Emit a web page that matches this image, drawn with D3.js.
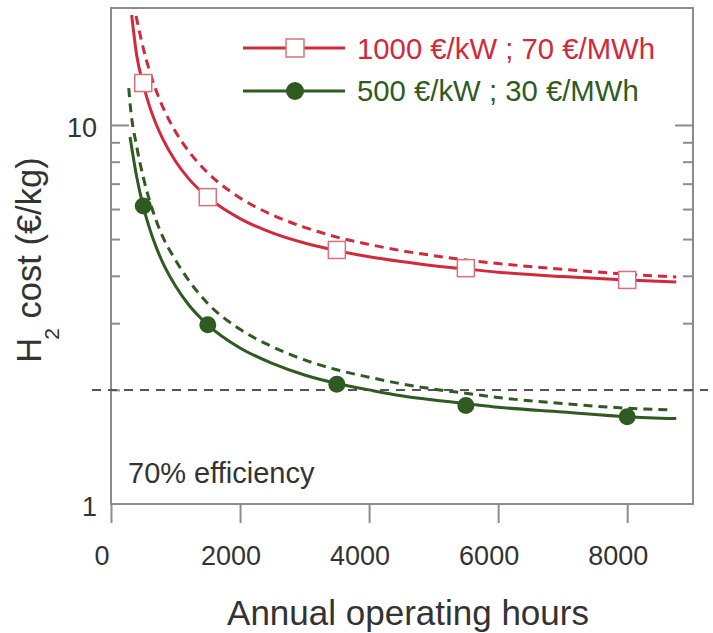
<!DOCTYPE html>
<html>
<head>
<meta charset="utf-8">
<script src="https://cdn.jsdelivr.net/npm/d3@7"></script>
<style>
  html, body { margin: 0; padding: 0; background: #fff; }
  svg { display: block; font-family: "Liberation Sans", Arial, Helvetica, sans-serif; }
</style>
</head>
<body>
<svg id="chart" width="713" height="633"></svg>
<script>
// ---------- DATA ----------
const xTickValues = [0, 2000, 4000, 6000, 8000];
const xTickLabels = ["0", "2000", "4000", "6000", "8000"];
const yMajorTicks = [1, 10];
const yMinorTicks = [2, 3, 4, 5, 6, 7, 8, 9];
const targetCost = 2;

const redSolidHours = [320, 400, 500, 600, 700, 800, 1000, 1200, 1500, 2000, 2500, 3000, 3500, 4000, 4500, 5000, 5500, 6000, 7000, 8000, 8760];
const redSolidCost  = [19.5, 15.2, 12.8, 11.16, 10.04, 9.2, 8.02, 7.23, 6.45, 5.66, 5.19, 4.88, 4.66, 4.49, 4.36, 4.25, 4.17, 4.09, 3.98, 3.9, 3.85];

const redDashHours = [388, 500, 600, 700, 800, 1000, 1200, 1500, 2000, 2500, 3000, 3500, 4000, 4500, 5000, 5500, 6000, 7000, 8000, 8760];
const redDashCost  = [19.4, 15.94, 13.83, 12.32, 11.18, 9.6, 8.54, 7.48, 6.42, 5.79, 5.37, 5.06, 4.84, 4.66, 4.52, 4.4, 4.31, 4.16, 4.04, 3.97];

const greenSolidHours = [295, 400, 500, 600, 700, 800, 1000, 1200, 1500, 2000, 2500, 3000, 3500, 4000, 4500, 5000, 5500, 6000, 7000, 8000, 8760];
const greenSolidCost  = [9.3, 7.27, 6.1, 5.32, 4.76, 4.34, 3.76, 3.36, 2.97, 2.58, 2.35, 2.19, 2.08, 2.0, 1.93, 1.88, 1.84, 1.8, 1.75, 1.7, 1.68];

const greenDashHours = [275, 300, 400, 500, 600, 700, 800, 1000, 1200, 1500, 2000, 2500, 3000, 3500, 4000, 4500, 5000, 5500, 6000, 7000, 8000, 8700];
const greenDashCost  = [12.5, 11.2, 8.74, 7.28, 6.3, 5.6, 5.08, 4.4, 3.9, 3.38, 2.89, 2.6, 2.4, 2.26, 2.16, 2.075, 2.01, 1.96, 1.91, 1.84, 1.79, 1.77];

const markerHours     = [500, 1500, 3500, 5500, 8000];
const redMarkerCost   = [12.9, 6.45, 4.68, 4.19, 3.9];
const greenMarkerCost = [6.11, 2.97, 2.07, 1.82, 1.7];

const legendLabels = ["1000 €/kW ; 70 €/MWh", "500 €/kW ; 30 €/MWh"];
const annotation = "70% efficiency";
const xTitle = "Annual operating hours";

// ---------- STYLE ----------
const RED = "#d02a3c";
const RED_MARK = "#d9707c";
const GREEN = "#2f5b22";
const FRAME = "#8c8c8c";

const svg = d3.select("#chart");
const L = 111, R = 693, T = 8, B = 504;

const x = d3.scaleLinear().domain([0, 9020]).range([L, R]);
const y = d3.scaleLog().domain([1, 20.35]).range([B, T]);

// frame
svg.append("rect").attr("x", L).attr("y", T).attr("width", R - L).attr("height", B - T)
  .attr("fill", "none").attr("stroke", FRAME).attr("stroke-width", 2);

// x axis ticks (outward) + labels
const xAxis = d3.axisBottom(x).tickValues(xTickValues).tickSize(19).tickPadding(0).tickFormat(() => "");
const gx = svg.append("g").attr("transform", `translate(0,${B})`).call(xAxis);
gx.select(".domain").remove();
gx.selectAll(".tick line").attr("stroke", FRAME).attr("stroke-width", 2);
svg.append("g").selectAll("text").data(xTickValues).join("text")
  .attr("x", d => x(d) - 9).attr("y", 565)
  .attr("text-anchor", "middle").attr("font-size", 27).attr("fill", "#333")
  .text((d, i) => xTickLabels[i]);

// y ticks (inward, both sides)
function yTicks(side) {
  const major = side === "left"
    ? d3.axisRight(y).tickValues([10]).tickSize(18).tickFormat(() => "")
    : d3.axisLeft(y).tickValues([10]).tickSize(18).tickFormat(() => "");
  const minor = side === "left"
    ? d3.axisRight(y).tickValues(yMinorTicks).tickSize(9).tickFormat(() => "")
    : d3.axisLeft(y).tickValues(yMinorTicks).tickSize(10).tickFormat(() => "");
  const xpos = side === "left" ? L : R;
  [major, minor].forEach(ax => {
    const g = svg.append("g").attr("transform", `translate(${xpos},0)`).call(ax);
    g.select(".domain").remove();
    g.selectAll(".tick line").attr("stroke", FRAME).attr("stroke-width", 2);
  });
}
yTicks("left");
yTicks("right");

svg.append("g").selectAll("text").data(yMajorTicks).join("text")
  .attr("x", 97).attr("y", d => y(d) + 3)
  .attr("dy", "0.35em")
  .attr("text-anchor", "end").attr("font-size", 27).attr("fill", "#333")
  .text(d => d);

// target line at 2 €/kg
svg.append("line")
  .attr("x1", 92).attr("x2", 708)
  .attr("y1", y(targetCost)).attr("y2", y(targetCost))
  .attr("stroke", "#555").attr("stroke-width", 2).attr("stroke-dasharray", "9,7");

// curves
const line = d3.line().x(d => x(d[0])).y(d => y(d[1])).curve(d3.curveMonotoneX);
const zip = (a, b) => a.map((v, i) => [v, b[i]]);

function curve(hrs, cost, color, dashed) {
  svg.append("path").datum(zip(hrs, cost))
    .attr("d", line).attr("fill", "none")
    .attr("stroke", color).attr("stroke-width", 3)
    .attr("stroke-dasharray", dashed ? "9,6" : null);
}
curve(redDashHours, redDashCost, RED, true);
curve(redSolidHours, redSolidCost, RED, false);
curve(greenDashHours, greenDashCost, GREEN, true);
curve(greenSolidHours, greenSolidCost, GREEN, false);

// markers
const S = 17;
svg.append("g").selectAll("rect").data(zip(markerHours, redMarkerCost)).join("rect")
  .attr("x", d => x(d[0]) - S / 2).attr("y", d => y(d[1]) - S / 2)
  .attr("width", S).attr("height", S)
  .attr("fill", "#fff").attr("stroke", RED_MARK).attr("stroke-width", 1.5);
svg.append("g").selectAll("circle").data(zip(markerHours, greenMarkerCost)).join("circle")
  .attr("cx", d => x(d[0])).attr("cy", d => y(d[1])).attr("r", 8.5)
  .attr("fill", GREEN);

// legend
const legY = [48, 91];
svg.append("line").attr("x1", 243).attr("x2", 345).attr("y1", legY[0]).attr("y2", legY[0])
  .attr("stroke", RED).attr("stroke-width", 3);
svg.append("rect").attr("x", 295 - 9).attr("y", legY[0] - 9).attr("width", 18).attr("height", 18)
  .attr("fill", "#fff").attr("stroke", RED_MARK).attr("stroke-width", 1.5);
svg.append("line").attr("x1", 243).attr("x2", 345).attr("y1", legY[1]).attr("y2", legY[1])
  .attr("stroke", GREEN).attr("stroke-width", 3);
svg.append("circle").attr("cx", 295).attr("cy", legY[1]).attr("r", 9).attr("fill", GREEN);

svg.append("text").attr("x", 357).attr("y", 59).attr("font-size", 29.3).attr("fill", RED)
  .text(legendLabels[0]);
svg.append("text").attr("x", 357).attr("y", 101).attr("font-size", 29.3).attr("fill", GREEN)
  .text(legendLabels[1]);

// annotation
svg.append("text").attr("x", 128).attr("y", 483).attr("font-size", 29).attr("fill", "#333")
  .text(annotation);

// x title
svg.append("text").attr("x", 408).attr("y", 625).attr("text-anchor", "middle")
  .attr("font-size", 35).attr("fill", "#333").text(xTitle);

// y title
const yt = svg.append("text")
  .attr("transform", "translate(41,260) rotate(-90)")
  .attr("text-anchor", "middle").attr("font-size", 34.5).attr("fill", "#333");
yt.append("tspan").text("H");
yt.append("tspan").attr("font-size", 21).attr("dx", -2).attr("dy", 18).text("2");
yt.append("tspan").attr("dy", -18).text(" cost (€/kg)");
</script>
</body>
</html>
